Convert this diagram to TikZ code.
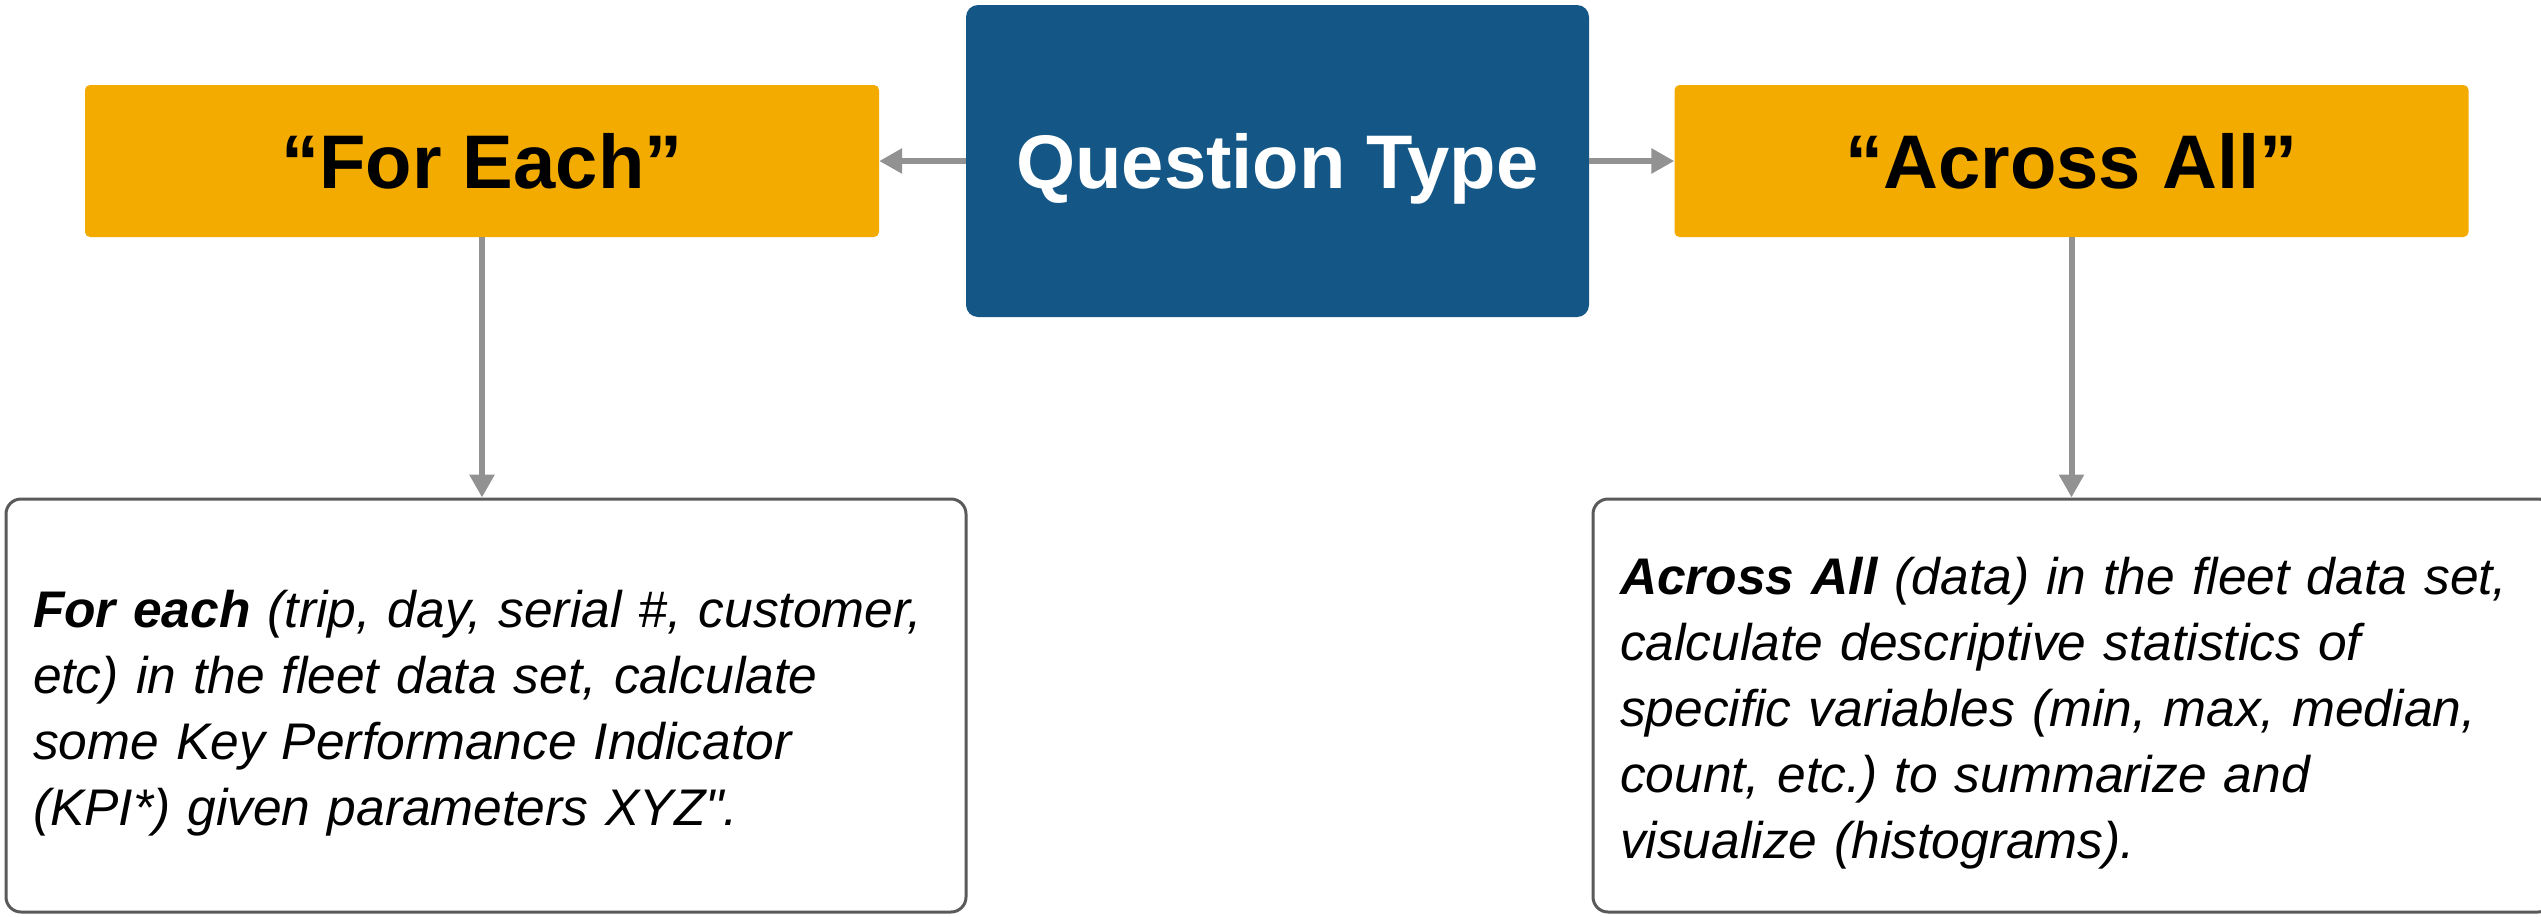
\documentclass[tikz,border=0pt]{standalone}
\usepackage{fontspec}
\setmainfont{Liberation Sans}
% plain family without TeX ligature mapping, so a typed " stays straight
\newfontfamily\bodyfont{Liberation Sans}
\usetikzlibrary{arrows.meta}
\frenchspacing

\definecolor{headorange}{HTML}{F3AB00}
\definecolor{qtblue}{HTML}{145786}
\definecolor{linkgray}{HTML}{929292}
\definecolor{frame}{HTML}{5A5A5A}

\tikzset{
  header/.style={fill=headorange, rounded corners=5pt, minimum width=794pt,
    minimum height=152pt, inner sep=0pt, text depth=0pt,
    font=\fontsize{76}{90}\selectfont\bfseries},
  rootbox/.style={fill=qtblue, rounded corners=12pt, minimum width=623pt,
    minimum height=312pt, inner sep=0pt, text depth=0pt, text=white,
    font=\fontsize{76}{90}\selectfont\bfseries},
  detail/.style={draw=frame, line width=3pt, rounded corners=15pt, fill=white,
    minimum width=960pt, minimum height=413pt, inner sep=0pt},
  detailtext/.style={text width=906pt, inner sep=0pt, align=left, yshift=-8pt,
    font=\bodyfont\fontsize{51.5}{66}\selectfont\itshape},
  link/.style={draw=linkgray, line width=6pt,
    -{Triangle[width=24pt,length=23pt]}}
}

\begin{document}
\begin{tikzpicture}[x=1pt,y=-1pt]
  \useasboundingbox (0,0) rectangle (2541,916);

  \node[rootbox] (qt) at (1277.5,161) {Question Type};
  \node[header] (fe) at (482,161) {“For Each”};
  \node[header] (aa) at (2071.5,161) {“Across All”};

  % framed detail boxes and their descriptions
  \node[detail] (fed) at (486,705.5) {};
  \node[detailtext] (fet) at (fed.center) {%
    {\bfseries For each} (trip, day, serial \#, customer,\\
    etc) in the fleet data set, calculate\\
    some Key Performance Indicator\\
    (KPI*) given parameters XYZ".};
  \node[detail] (aad) at (2073,705.5) {};
  \node[detailtext] (aat) at (aad.center) {%
    {\bfseries Across All} (data) in the fleet data set,\\
    calculate descriptive statistics of\\
    specific variables (min, max, median,\\
    count, etc.) to summarize and\\
    visualize (histograms).};

  \draw[link] (qt.west) -- (fe.east);
  \draw[link] (qt.east) -- (aa.west);
  \draw[link] (fe.south) -- (fe.south |- fed.north);
  \draw[link] (aa.south) -- (aa.south |- aad.north);
\end{tikzpicture}
\end{document}
